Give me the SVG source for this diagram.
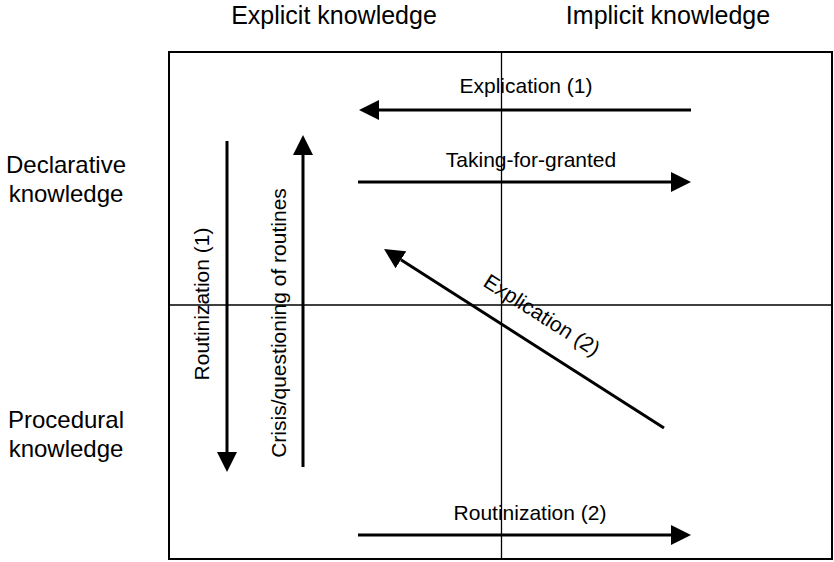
<svg xmlns="http://www.w3.org/2000/svg" width="834" height="562" viewBox="0 0 834 562">
  <style>
    .lbl { font-family: "Liberation Sans", Arial, sans-serif; fill: #000; }
    .head { font-size: 25px; text-anchor: middle; }
    .side { font-size: 24px; text-anchor: middle; }
    .arr-t { font-size: 21px; text-anchor: middle; }
    .frame { fill: none; stroke: #000; stroke-width: 2; }
    .axis { stroke: #000; stroke-width: 1.3; }
    .arrow { stroke: #000; stroke-width: 3; fill: none; marker-end: url(#head); }
  </style>
  <defs>
    <marker id="head" viewBox="0 0 20 20" markerWidth="20" markerHeight="20" refX="0" refY="10" orient="auto" markerUnits="userSpaceOnUse">
      <path d="M0,0 L20,10 L0,20 Z" fill="#000"/>
    </marker>
  </defs>
  <rect width="834" height="562" fill="#fff"/>

  <!-- column and row headings -->
  <g id="col-explicit"><text class="lbl head" x="334" y="24">Explicit knowledge</text></g>
  <g id="col-implicit"><text class="lbl head" x="668" y="24">Implicit knowledge</text></g>
  <g id="row-declarative"><text class="lbl side" x="66" y="173">Declarative</text><text class="lbl side" x="66" y="202">knowledge</text></g>
  <g id="row-procedural"><text class="lbl side" x="66" y="428">Procedural</text><text class="lbl side" x="66" y="457">knowledge</text></g>

  <!-- quadrant grid -->
  <g id="grid">
    <rect class="frame" x="169" y="52" width="663" height="507"/>
    <line class="axis" x1="501.5" y1="52" x2="501.5" y2="559"/>
    <line class="axis" x1="169" y1="305" x2="832" y2="305"/>
  </g>

  <!-- transitions -->
  <g id="connectors">
    <line class="arrow" x1="691" y1="110" x2="379" y2="110"/>
    <line class="arrow" x1="358" y1="182" x2="671" y2="182"/>
    <line class="arrow" x1="358" y1="535" x2="671" y2="535"/>
    <line class="arrow" x1="227" y1="141" x2="227" y2="452"/>
    <line class="arrow" x1="303" y1="467" x2="303" y2="155"/>
    <line class="arrow" x1="664" y1="428" x2="400.9" y2="259.8"/>
  </g>

  <g id="labels">
    <text class="lbl arr-t" x="526" y="93">Explication (1)</text>
    <text class="lbl arr-t" x="531" y="167">Taking-for-granted</text>
    <text class="lbl arr-t" x="530" y="520">Routinization (2)</text>
    <text class="lbl arr-t" transform="translate(209,304) rotate(-90)">Routinization (1)</text>
    <text class="lbl arr-t" transform="translate(286,323) rotate(-90)">Crisis/questioning of routines</text>
    <text class="lbl arr-t" transform="translate(538,321) rotate(32.6)">Explication (2)</text>
  </g>
</svg>
